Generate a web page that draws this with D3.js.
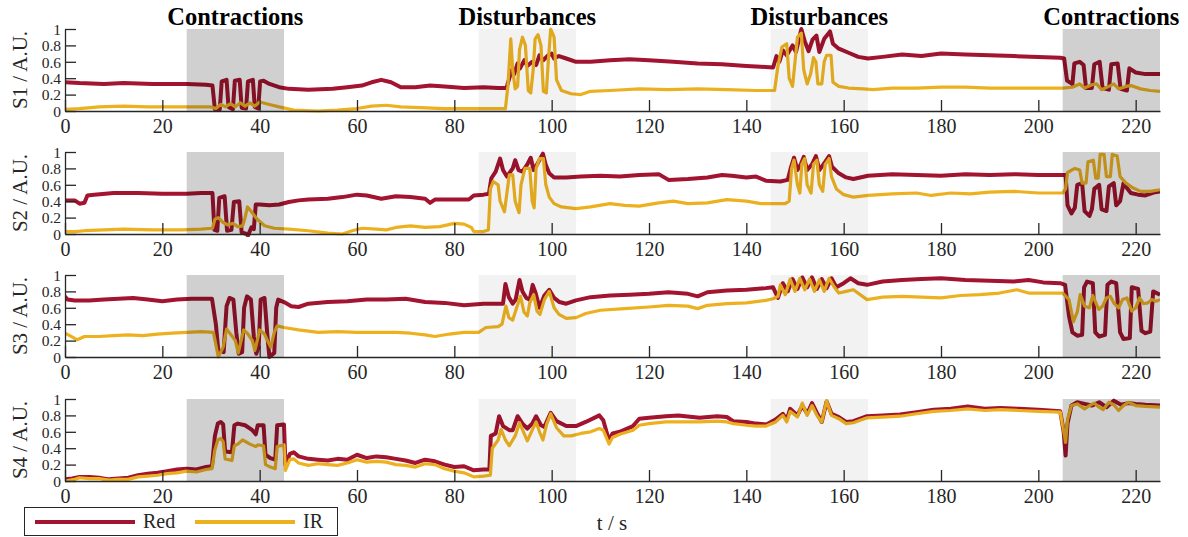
<!DOCTYPE html>
<html><head><meta charset="utf-8">
<script src="https://cdn.jsdelivr.net/npm/d3@7"></script>
<style>html,body{margin:0;padding:0;background:#fff;}svg{display:block;font-family:"Liberation Serif","Times New Roman",serif;}</style>
</head><body><svg id="c" width="1188" height="537"></svg>
<script>
const panelNames = ["S1","S2","S3","S4"];
const seriesNames = ["Red","IR"];
const xTicks = [0,20,40,60,80,100,120,140,160,180,200,220];
const yTicks = [0,0.2,0.4,0.6,0.8,1];
const yTickLabels = ["0","0.2","0.4","0.6","0.8","1"];
const regionStart = [25,85,145,205];
const regionEnd = [45,105,165,225];
const regionLabels = ["Contractions","Disturbances","Disturbances","Contractions"];
const regionKind = ["contraction","disturbance","disturbance","contraction"];

const s1Red = [[0,0.35],[3,0.34],[8,0.33],[12,0.34],[18,0.33],[25,0.33],[29,0.32],[30.3,0.31],[30.8,0.02],[31.8,0.02],[32.2,0.36],[33.2,0.38],[33.6,0.05],[34.5,0.02],[34.9,0.37],[35.9,0.38],[36.3,0.04],[37.2,0.03],[37.6,0.36],[38.6,0.38],[39,0.05],[39.7,0.03],[40.1,0.36],[40.8,0.37],[42,0.33],[44,0.29],[46,0.27],[50,0.26],[55,0.27],[58,0.29],[61,0.31],[63,0.35],[65,0.38],[67,0.35],[69,0.29],[72,0.29],[75,0.31],[78,0.3],[82,0.28],[86,0.29],[89,0.28],[90.7,0.28],[91.3,0.4],[91.8,0.5],[92.3,0.45],[93,0.58],[93.5,0.52],[94.4,0.62],[95,0.55],[96,0.6],[96.8,0.56],[97.5,0.68],[98.3,0.62],[99.3,0.68],[100,0.7],[100.5,0.64],[101.5,0.67],[103,0.64],[105,0.6],[108,0.6],[112,0.62],[116,0.63],[120,0.62],[125,0.6],[130,0.58],[135,0.57],[140,0.55],[143,0.54],[145.5,0.53],[146.2,0.67],[146.8,0.6],[147.5,0.74],[148.3,0.68],[149.5,0.8],[150.2,0.72],[151.3,1.0],[152,0.85],[152.8,0.73],[153.6,0.87],[154.4,0.92],[155,0.72],[156,0.88],[157.2,0.97],[157.8,0.82],[159,0.76],[161,0.71],[163,0.66],[165,0.64],[168,0.66],[172,0.69],[176,0.67],[180,0.7],[185,0.69],[190,0.68],[195,0.67],[200,0.66],[204.5,0.65],[205.3,0.64],[205.9,0.37],[207,0.33],[207.4,0.58],[208.5,0.6],[209.3,0.56],[209.8,0.28],[211,0.28],[211.5,0.57],[212.6,0.6],[213.2,0.28],[214.5,0.26],[215,0.57],[216.3,0.58],[216.9,0.27],[218.2,0.25],[218.7,0.52],[220,0.47],[222,0.45],[225,0.45]];
const s1IR = [[0,0.02],[3,0.03],[7,0.05],[12,0.06],[17,0.05],[22,0.05],[27,0.05],[30,0.05],[31,0.03],[32,0.08],[33,0.05],[34,0.09],[35,0.05],[36,0.1],[37,0.06],[38,0.1],[39,0.06],[40,0.11],[42,0.08],[44,0.05],[47,0.01],[52,0.0],[56,0.01],[60,0.03],[63,0.06],[66,0.07],[69,0.05],[73,0.04],[78,0.03],[83,0.03],[88,0.03],[90.5,0.03],[91,0.3],[91.6,0.88],[92,0.5],[92.5,0.27],[93,0.3],[93.4,0.75],[94,0.9],[94.6,0.8],[95.2,0.25],[95.7,0.22],[96.2,0.5],[96.6,0.88],[97.2,0.93],[97.8,0.8],[98.3,0.24],[98.9,0.22],[99.3,0.6],[99.8,1.0],[100.5,0.9],[101,0.38],[102,0.25],[104,0.21],[106,0.2],[108,0.24],[112,0.25],[118,0.27],[124,0.26],[130,0.27],[136,0.26],[142,0.25],[145.8,0.25],[146.5,0.55],[147.3,0.78],[148.3,0.82],[148.8,0.4],[149.5,0.3],[150,0.6],[150.5,0.9],[151.3,0.95],[151.8,0.5],[152.5,0.33],[153.2,0.45],[153.8,0.65],[154.3,0.6],[154.7,0.33],[155.5,0.33],[156,0.6],[156.5,0.68],[157.4,0.68],[157.8,0.35],[159,0.3],[161,0.28],[164,0.27],[166,0.26],[170,0.28],[175,0.28],[180,0.29],[185,0.29],[190,0.28],[195,0.28],[200,0.28],[205,0.28],[207,0.29],[208.5,0.33],[209.5,0.28],[211,0.32],[212,0.33],[213,0.26],[214.5,0.3],[215.5,0.33],[216.5,0.27],[218,0.3],[219,0.31],[221,0.27],[223,0.25],[225,0.24]];
const s2Red = [[0,0.41],[2,0.41],[3,0.37],[4,0.38],[4.6,0.47],[6,0.48],[10,0.5],[15,0.5],[20,0.49],[25,0.49],[28,0.5],[30.3,0.5],[30.7,0.05],[31.3,0.04],[31.7,0.44],[32.8,0.46],[33.3,0.04],[34.2,0.05],[34.7,0.39],[35.8,0.4],[36.3,0.02],[37.3,0.0],[37.6,-0.02],[38.3,0.08],[38.8,0.06],[39.2,0.36],[40,0.36],[42,0.35],[44,0.36],[46,0.39],[48,0.41],[50,0.42],[54,0.43],[57,0.45],[60,0.48],[62,0.47],[65,0.43],[68,0.46],[71,0.45],[74,0.43],[75,0.38],[76,0.42],[80,0.42],[83,0.42],[84,0.47],[86,0.48],[87.1,0.49],[87.6,0.68],[88.5,0.76],[89.4,0.92],[90,0.78],[90.8,0.7],[92,0.8],[92.5,0.9],[93.2,0.78],[94,0.76],[95,0.85],[95.7,0.93],[96.3,0.78],[97.2,0.87],[98.2,0.98],[98.8,0.84],[99.5,0.74],[100.5,0.69],[103,0.69],[106,0.7],[110,0.71],[114,0.7],[118,0.72],[122,0.73],[124,0.66],[128,0.67],[132,0.69],[135,0.72],[137,0.71],[140,0.69],[142,0.7],[144,0.65],[147,0.64],[148.5,0.66],[149.2,0.82],[149.8,0.93],[150.5,0.78],[151.2,0.85],[151.8,0.94],[152.5,0.78],[153.5,0.85],[154.3,0.95],[155,0.78],[156.2,0.88],[157,0.95],[157.6,0.82],[159,0.74],[160.5,0.69],[162,0.67],[165,0.71],[170,0.73],[175,0.72],[180,0.71],[185,0.73],[190,0.72],[195,0.73],[200,0.72],[205,0.72],[205.6,0.72],[206,0.35],[206.8,0.25],[207.5,0.32],[208,0.6],[209,0.62],[209.5,0.28],[210.5,0.22],[211,0.3],[211.5,0.55],[212.5,0.6],[213,0.3],[214,0.28],[214.5,0.58],[215.5,0.62],[216,0.35],[216.8,0.4],[217.5,0.62],[218.2,0.56],[219,0.5],[220.5,0.48],[222,0.47],[224,0.51],[225,0.52]];
const s2IR = [[0,0.03],[2,0.03],[4,0.04],[8,0.05],[12,0.06],[18,0.05],[24,0.05],[28,0.06],[30.3,0.07],[30.8,0.18],[31.5,0.2],[32.5,0.14],[33.5,0.11],[34.5,0.13],[35.5,0.09],[36.5,0.1],[37,0.2],[37.5,0.33],[38.3,0.27],[39.5,0.18],[41,0.1],[43,0.07],[46,0.06],[50,0.04],[54,0.01],[57,0.0],[59,0.04],[61,0.07],[64,0.06],[66,0.05],[68,0.08],[71,0.1],[74,0.08],[77,0.09],[80,0.13],[82,0.12],[83.5,0.08],[84,0.03],[86,0.03],[87,0.05],[87.4,0.55],[88,0.64],[89,0.6],[89.4,0.4],[90.3,0.27],[90.8,0.5],[91.3,0.72],[92,0.72],[92.5,0.4],[93.3,0.26],[93.7,0.6],[94.5,0.8],[95.5,0.8],[96,0.4],[96.4,0.32],[96.8,0.8],[97.5,0.92],[98.3,0.92],[98.8,0.6],[99.5,0.45],[100.5,0.37],[102,0.33],[105,0.31],[108,0.33],[112,0.37],[115,0.35],[118,0.34],[122,0.38],[125,0.4],[128,0.37],[132,0.38],[136,0.42],[140,0.4],[143,0.37],[148,0.37],[148.8,0.4],[149.3,0.8],[149.8,0.9],[150.5,0.6],[151,0.5],[151.4,0.85],[152,0.92],[152.5,0.6],[153.3,0.5],[153.8,0.85],[154.5,0.9],[155,0.6],[155.7,0.52],[156.2,0.85],[157,0.92],[157.5,0.7],[158.5,0.55],[160,0.48],[162,0.45],[165,0.47],[170,0.49],[175,0.5],[178,0.47],[182,0.5],[186,0.49],[190,0.51],[195,0.52],[200,0.5],[205,0.5],[205.6,0.55],[206,0.75],[207.5,0.8],[208.5,0.78],[209,0.62],[209.8,0.62],[210.2,0.88],[211.3,0.9],[211.8,0.68],[212.3,0.68],[212.7,0.97],[213.5,0.97],[214,0.7],[214.8,0.7],[215.2,0.97],[216.2,0.95],[216.8,0.7],[218,0.62],[219.5,0.56],[221,0.52],[223,0.52],[225,0.54]];
const s3Red = [[0,0.74],[0.5,0.7],[2,0.69],[5,0.69],[8,0.7],[11,0.71],[14,0.72],[17,0.7],[20,0.68],[23,0.7],[26,0.71],[29,0.71],[30.2,0.71],[31,0.4],[31.5,0.08],[32.6,0.06],[33.2,0.62],[33.8,0.72],[34.6,0.7],[35.2,0.3],[35.7,0.04],[36.4,0.06],[36.8,0.6],[37.4,0.74],[38.2,0.7],[38.8,0.25],[39.3,0.04],[39.8,0.12],[40.2,0.7],[41,0.72],[41.6,0.25],[42,0.0],[43,0.05],[43.4,0.6],[43.8,0.7],[45,0.67],[46.5,0.62],[48,0.61],[50,0.65],[54,0.67],[58,0.68],[62,0.7],[66,0.7],[70,0.71],[74,0.67],[78,0.66],[82,0.63],[86,0.65],[90,0.65],[90.5,0.89],[91.2,0.73],[92,0.65],[92.6,0.7],[93.4,0.94],[94,0.8],[94.8,0.72],[95.5,0.7],[96.1,0.88],[96.7,0.78],[97.5,0.6],[98.5,0.75],[99.5,0.82],[100.5,0.72],[101.6,0.67],[103,0.65],[105,0.69],[108,0.73],[112,0.75],[116,0.76],[120,0.77],[124,0.79],[128,0.77],[130,0.74],[132,0.79],[136,0.81],[140,0.82],[144,0.84],[145.5,0.85],[146.5,0.72],[147.5,0.9],[148.5,0.8],[149.5,0.95],[150.5,0.83],[151.5,0.97],[152.5,0.85],[153.5,0.97],[154.5,0.83],[155.5,0.95],[156.5,0.84],[157.5,0.96],[158.5,0.85],[160,0.9],[161.4,0.96],[163,0.9],[164.8,0.88],[168,0.92],[172,0.94],[176,0.95],[180,0.96],[185,0.94],[190,0.93],[195,0.92],[198,0.94],[201,0.91],[204.5,0.9],[205.5,0.88],[206.3,0.5],[207,0.3],[208,0.26],[209,0.27],[209.4,0.85],[210,0.92],[211.2,0.9],[211.7,0.3],[212.5,0.25],[213.7,0.27],[214.2,0.88],[215,0.92],[216,0.9],[216.8,0.3],[217.5,0.22],[218.8,0.23],[219.2,0.85],[220.5,0.83],[221.2,0.32],[222,0.29],[223,0.31],[223.6,0.8],[225,0.76]];
const s3IR = [[0,0.29],[1,0.26],[2.5,0.21],[4,0.25],[7,0.25],[10,0.26],[13,0.27],[16,0.26],[19,0.28],[22,0.29],[25,0.3],[28,0.31],[30.5,0.3],[31.5,0.0],[32.5,0.12],[33.2,0.34],[34,0.28],[35,0.2],[35.6,0.05],[36,0.15],[36.7,0.33],[37.6,0.28],[38.5,0.2],[39,0.08],[39.5,0.2],[40,0.33],[41,0.28],[41.6,0.2],[42.3,0.12],[43,0.3],[43.6,0.38],[45,0.36],[48,0.33],[52,0.3],[56,0.31],[60,0.3],[64,0.3],[68,0.3],[71,0.29],[74,0.27],[76,0.25],[79,0.28],[82,0.3],[85,0.3],[86.5,0.36],[89,0.37],[89.8,0.4],[90.6,0.62],[91.2,0.48],[92,0.45],[92.8,0.6],[93.6,0.74],[94.3,0.55],[95,0.5],[95.5,0.66],[96.3,0.76],[97,0.56],[97.6,0.52],[98.5,0.7],[99.5,0.8],[100.5,0.6],[101.5,0.52],[103,0.47],[105,0.48],[107,0.53],[110,0.57],[115,0.59],[120,0.61],[124,0.63],[128,0.62],[130,0.59],[132,0.63],[136,0.65],[140,0.66],[144,0.69],[145.5,0.71],[146.5,0.74],[147,0.88],[148,0.76],[149,0.95],[150,0.8],[151,0.96],[152,0.82],[153,0.95],[154,0.8],[155,0.94],[156,0.8],[157,0.96],[158,0.86],[159,0.78],[160.5,0.8],[162,0.82],[164.8,0.7],[168,0.73],[172,0.74],[176,0.73],[180,0.72],[184,0.75],[188,0.76],[192,0.78],[195.6,0.82],[198,0.78],[202,0.78],[205,0.78],[206.3,0.7],[207.2,0.43],[208,0.55],[208.6,0.76],[209.5,0.62],[210.5,0.6],[211.2,0.75],[212.4,0.58],[213.2,0.62],[214,0.72],[214.8,0.74],[215.6,0.65],[216.5,0.6],[217.3,0.7],[218.2,0.72],[219.2,0.56],[220,0.6],[220.8,0.72],[221.6,0.65],[222.5,0.66],[223.3,0.7],[224.2,0.68],[225,0.7]];
const s4Red = [[0,0.02],[1.5,0.03],[3,0.05],[5,0.05],[7,0.04],[9,0.02],[11,0.03],[13,0.04],[15,0.07],[17,0.09],[19,0.1],[21,0.12],[23,0.14],[25,0.15],[27,0.14],[29,0.17],[30.2,0.18],[30.8,0.55],[31.4,0.7],[32,0.72],[32.5,0.69],[32.9,0.36],[34.3,0.35],[34.8,0.68],[35.5,0.7],[37,0.68],[38.5,0.62],[39.2,0.57],[39.6,0.68],[40.8,0.68],[41.2,0.32],[42.2,0.28],[43.2,0.26],[43.6,0.68],[45,0.69],[45.3,0.2],[46.2,0.33],[47,0.35],[48,0.3],[50,0.27],[52,0.26],[54,0.25],[56,0.27],[58,0.26],[60,0.32],[62,0.28],[64,0.3],[66,0.29],[68,0.27],[70,0.25],[72,0.22],[74,0.26],[76,0.24],[78,0.2],[80,0.17],[82,0.18],[84,0.13],[86,0.14],[87.2,0.14],[87.5,0.55],[88.5,0.58],[89.2,0.79],[90,0.67],[91.3,0.62],[92,0.62],[93,0.79],[94,0.7],[95,0.64],[96,0.7],[96.8,0.79],[97.8,0.68],[98.5,0.66],[99.8,0.83],[101,0.73],[103,0.67],[105,0.67],[107,0.72],[109.8,0.8],[110.6,0.74],[111.8,0.49],[112.5,0.58],[114,0.6],[116.7,0.67],[118,0.76],[120,0.77],[123.5,0.79],[126,0.8],[130.4,0.77],[134,0.79],[136,0.78],[137.3,0.73],[140,0.72],[142,0.7],[144.1,0.69],[146,0.75],[147.5,0.82],[148.3,0.75],[149,0.88],[150.5,0.8],[151.5,0.92],[152.5,0.82],[153.5,0.95],[154.5,0.83],[155.5,0.72],[156.5,0.97],[157.5,0.82],[159,0.78],[160.5,0.72],[162,0.73],[164.8,0.79],[168,0.8],[171.6,0.81],[175,0.84],[178.5,0.87],[182,0.88],[185.5,0.91],[189,0.88],[192.2,0.89],[196,0.88],[200,0.87],[204.5,0.85],[205.2,0.6],[205.6,0.31],[206,0.7],[206.8,0.92],[208,0.96],[209.5,0.94],[211,0.92],[212.5,0.96],[214,0.9],[215.5,0.98],[217,0.93],[218.5,0.95],[220,0.94],[222,0.93],[225,0.92]];
const s4IR = [[0,0.0],[2,0.02],[3,0.04],[5,0.03],[7,0.03],[9,0.01],[11,0.02],[13,0.02],[15,0.05],[17,0.06],[19,0.07],[21,0.09],[23,0.1],[25,0.12],[27,0.11],[29,0.14],[30.2,0.15],[30.8,0.38],[31.4,0.5],[32,0.52],[32.5,0.48],[32.9,0.27],[34.3,0.25],[34.8,0.43],[35.5,0.45],[36.5,0.5],[38,0.45],[39.2,0.42],[39.6,0.44],[40.8,0.43],[41.2,0.2],[42.2,0.17],[43.2,0.15],[43.6,0.42],[45,0.44],[45.3,0.13],[46.2,0.26],[47,0.27],[48,0.22],[50,0.19],[52,0.21],[54,0.2],[56,0.19],[58,0.22],[60,0.26],[62,0.23],[64,0.24],[66,0.23],[68,0.2],[70,0.19],[72,0.17],[74,0.21],[76,0.2],[78,0.15],[80,0.12],[82,0.1],[84,0.05],[86,0.06],[87.4,0.07],[87.8,0.4],[89,0.5],[89.6,0.63],[90.5,0.5],[91.3,0.43],[92.5,0.55],[93.4,0.71],[94.2,0.6],[95,0.49],[96,0.62],[96.8,0.72],[97.5,0.6],[98.2,0.5],[99,0.7],[99.8,0.82],[101,0.65],[102.5,0.55],[104,0.55],[106,0.58],[108,0.6],[109.8,0.64],[110.6,0.62],[111.8,0.45],[112.5,0.53],[114,0.57],[116.7,0.62],[118,0.68],[120,0.7],[123.5,0.72],[126,0.72],[130.4,0.72],[134,0.73],[136,0.72],[137.3,0.7],[140,0.68],[142,0.67],[144.1,0.67],[146,0.72],[147.5,0.8],[148.3,0.72],[149,0.85],[150.5,0.78],[151.5,0.95],[152.5,0.8],[153.5,0.92],[154.5,0.8],[155.5,0.72],[156.5,0.98],[157.5,0.8],[159,0.76],[160.5,0.7],[162,0.71],[164.8,0.77],[168,0.78],[171.6,0.79],[175,0.82],[178.5,0.85],[182,0.86],[185.5,0.88],[189,0.86],[192.2,0.87],[196,0.86],[200,0.85],[204.5,0.84],[205.2,0.62],[205.6,0.47],[206,0.75],[206.8,0.92],[208,0.94],[209.5,0.88],[210.5,0.92],[211.5,0.95],[212.5,0.9],[213.3,0.87],[214.5,0.96],[215.5,0.93],[216.5,0.86],[217.5,0.92],[218.5,0.96],[220,0.92],[222,0.91],[225,0.9]];

const panelData = [[s1Red,s1IR],[s2Red,s2IR],[s3Red,s3IR],[s4Red,s4IR]];

// ---- layout / style ----
const colors = {Red:"#A2142F", IR:"#EDB120"};
const FONT = '"Liberation Serif","Times New Roman",serif';
const left = 65, right = 1160;
const panelTops = [29,152,275,399];
const panelH = 82;
const axisColor = "#262626";

const svg = d3.select("#c");
const x = d3.scaleLinear().domain([0,225]).range([left,right]);

panelTops.forEach((top,pi)=>{
  const y = d3.scaleLinear().domain([0,1]).range([top+panelH, top]);
  const g = svg.append("g");
  const cid = "clip"+pi;
  svg.append("clipPath").attr("id",cid).append("rect")
    .attr("x",left).attr("y",top-3).attr("width",right-left).attr("height",panelH+6);

  const line = d3.line().x(d=>x(d[0])).y(d=>y(d[1]));
  const lg = g.append("g").attr("clip-path",`url(#${cid})`);
  panelData[pi].forEach((ser,si)=>{
    lg.append("path").datum(ser).attr("d",line)
      .attr("fill","none").attr("stroke",colors[seriesNames[si]])
      .attr("stroke-width", si===0?4:3.2).attr("stroke-linejoin","round");
  });
  regionStart.forEach((s,ri)=>{
    g.append("rect").attr("x",x(s)).attr("y",y(1))
      .attr("width",x(regionEnd[ri])-x(s)).attr("height",y(0)-y(1))
      .attr("fill","#000").attr("fill-opacity", regionKind[ri]==="contraction"?0.185:0.05);
  });

  const xa = g.append("g").attr("transform",`translate(0,${y(0)})`)
    .call(d3.axisBottom(x).tickValues(xTicks).tickSizeInner(-11).tickSizeOuter(0).tickPadding(8).tickFormat(d3.format("d")));
  const ya = g.append("g").attr("transform",`translate(${left},0)`)
    .call(d3.axisLeft(y).tickValues(yTicks).tickSizeInner(-11).tickSizeOuter(0).tickPadding(4).tickFormat((d,i)=>yTickLabels[i]));
  [xa,ya].forEach(a=>{
    a.select(".domain").attr("stroke",axisColor).attr("stroke-width",1.3);
    a.selectAll(".tick line").attr("stroke",axisColor).attr("stroke-width",1.3);
    a.selectAll("text").attr("fill",axisColor).attr("font-family",FONT).attr("font-size",20);
  });
  ya.selectAll("text").attr("font-size",15.5).attr("dy","0.34em");

  svg.append("text").attr("transform",`translate(27,${top+panelH/2}) rotate(-90)`)
    .attr("text-anchor","middle").attr("font-family",FONT).attr("font-size",21).attr("fill",axisColor)
    .text(panelNames[pi]+" / A.U.");
});

regionStart.forEach((s,ri)=>{
  svg.append("text").attr("x",x((s+regionEnd[ri])/2)).attr("y",25)
    .attr("text-anchor","middle").attr("font-family",FONT).attr("font-weight","bold")
    .attr("font-size",24.5).attr("fill","#000").text(regionLabels[ri]);
});

svg.append("text").attr("x",612).attr("y",530).attr("text-anchor","middle")
  .attr("font-family",FONT).attr("font-size",21).attr("fill",axisColor).text("t / s");

const leg = svg.append("g");
leg.append("rect").attr("x",24.5).attr("y",507.5).attr("width",313).attr("height",28)
  .attr("fill","#fff").attr("stroke",axisColor).attr("stroke-width",1);
const legX = [35,195];
seriesNames.forEach((n,i)=>{
  leg.append("line").attr("x1",legX[i]).attr("x2",legX[i]+100).attr("y1",522).attr("y2",522)
    .attr("stroke",colors[n]).attr("stroke-width",4);
  leg.append("text").attr("x",legX[i]+108).attr("y",528).attr("font-family",FONT)
    .attr("font-size",20).attr("fill",axisColor).text(n);
});
</script></body></html>
